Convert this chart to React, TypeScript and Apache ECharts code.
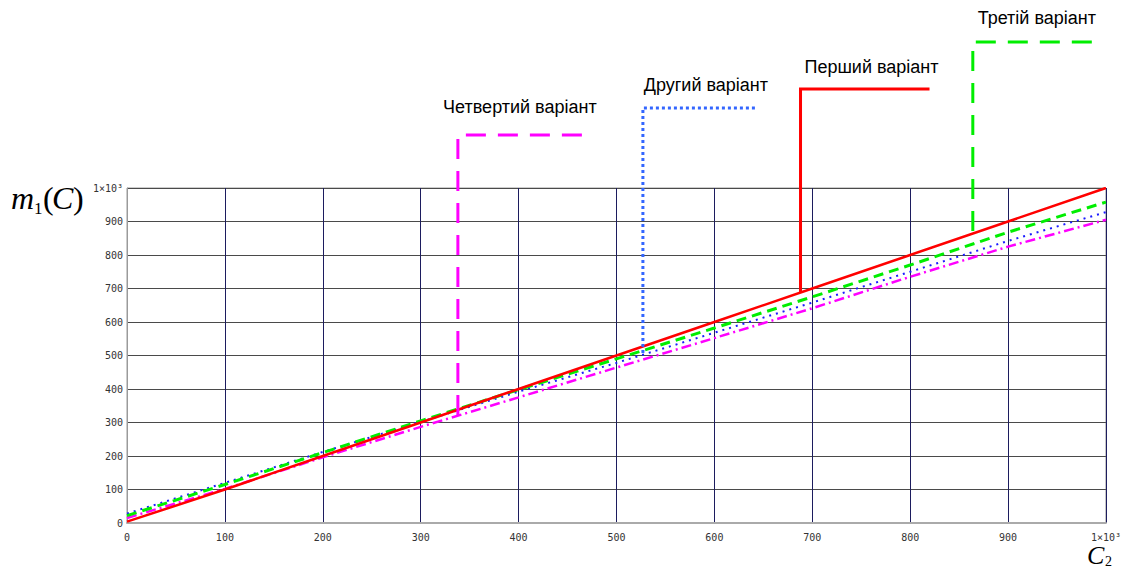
import React, { useEffect, useRef } from "react";
import * as echarts from "echarts";

// ---- data ----
const xValues = [0, 100, 200, 300, 400, 500, 600, 700, 800, 900, 1000];
const variant1 = [4, 100, 200, 300, 400, 500, 600, 700, 800, 900, 1000]; // Перший (red, solid)
const variant2 = [28, 120, 212, 302, 392, 478, 568, 658, 750, 842, 928]; // Другий (blue, dotted)
const variant3 = [22, 115, 210, 305, 398, 490, 582, 675, 770, 868, 958]; // Третій (green, dashed)
const variant4 = [15, 102, 196, 287, 375, 464, 552, 641, 735, 825, 905]; // Четвертий (magenta, dash-dot)
const seriesNames = ["Перший варіант", "Другий варіант", "Третій варіант", "Четвертий варіант"];
const calloutAnchorX = [688, 527, 864, 338]; // C2 value where each callout touches its curve
const axisMin = 0;
const axisMax = 1000;
const axisStep = 100;

const colors = ["#ff0000", "#3366ff", "#00ee00", "#ff00ff"];

function interp(xs: number[], ys: number[], x: number) {
  for (let i = 0; i < xs.length - 1; i++) {
    if (x >= xs[i] && x <= xs[i + 1]) {
      const t = (x - xs[i]) / (xs[i + 1] - xs[i]);
      return ys[i] + t * (ys[i + 1] - ys[i]);
    }
  }
  return ys[ys.length - 1];
}

export default function App() {
  const ref = useRef<HTMLDivElement>(null);
  useEffect(() => {
    if (!ref.current) return;
    const chart = echarts.init(ref.current, null, { renderer: "svg" });
    const all = [variant1, variant2, variant3, variant4];
    const pairs = all.map((s) => xValues.map((x, i) => [x, s[i]]));
    const tickFmt = (v: number) => (v === 1000 ? "1×10³" : String(v));
    const labelFont = { fontFamily: "DejaVu Sans Mono", fontSize: 10, color: "#333" };

    chart.setOption({
      animation: false,
      backgroundColor: "#fff",
      grid: {
        left: 127,
        right: 18,
        top: 188,
        bottom: 48,
        show: true,
        borderColor: "#9a9a9a",
        borderWidth: 1,
        backgroundColor: "#fff",
      },
      xAxis: {
        type: "value",
        min: axisMin,
        max: axisMax,
        interval: axisStep,
        axisLine: { show: true, lineStyle: { color: "#aaaaaa", width: 2 } },
        axisTick: { show: false },
        axisLabel: { ...labelFont, margin: 9, formatter: tickFmt, showMaxLabel: true },
        splitLine: { show: true, lineStyle: { color: "#1c1c5e", width: 1 } },
      },
      yAxis: {
        type: "value",
        min: axisMin,
        max: axisMax,
        interval: axisStep,
        axisLine: { show: true, lineStyle: { color: "#9a9a9a", width: 1 } },
        axisTick: { show: false },
        axisLabel: { ...labelFont, margin: 4, formatter: tickFmt, showMaxLabel: true },
        splitLine: { show: true, lineStyle: { color: "#4a4a4a", width: 1 } },
      },
      series: [
        {
          name: seriesNames[3],
          type: "line",
          data: pairs[3],
          showSymbol: false,
          lineStyle: { color: colors[3], width: 2.5, type: [10, 4, 2, 4] },
          z: 2,
        },
        {
          name: seriesNames[1],
          type: "line",
          data: pairs[1],
          showSymbol: false,
          lineStyle: { color: "#1a1aff", width: 2, type: [2, 5] },
          z: 3,
        },
        {
          name: seriesNames[2],
          type: "line",
          data: pairs[2],
          showSymbol: false,
          lineStyle: { color: colors[2], width: 3, type: [10, 6] },
          z: 4,
        },
        {
          name: seriesNames[0],
          type: "line",
          data: pairs[0],
          showSymbol: false,
          lineStyle: { color: colors[0], width: 2.5 },
          z: 5,
        },
      ],
    });

    // callout layout: horizontal y, horizontal length, label y, label center offset
    const calloutLayout = [
      { hy: 89, len: 129, ly: 67, lcx: 71, dash: null as number[] | null, w: 3 },
      { hy: 108, len: 112, ly: 85, lcx: 63, dash: [3, 3], w: 3 },
      { hy: 42, len: 119, ly: 18, lcx: 64, dash: [20, 12], w: 3 },
      { hy: 135, len: 124, ly: 107, lcx: 62, dash: [20, 12], w: 3 },
    ];
    const graphics: any[] = [];
    calloutAnchorX.forEach((ax, i) => {
      const ay = interp(xValues, all[i], ax);
      const p = chart.convertToPixel({ gridIndex: 0 }, [ax, ay]) as number[];
      const L = calloutLayout[i];
      graphics.push({
        type: "polyline",
        z: 100,
        shape: { points: [[p[0] + L.len, L.hy], [p[0], L.hy], [p[0], p[1]]] },
        style: {
          stroke: colors[i],
          lineWidth: L.w,
          fill: null,
          lineDash: L.dash || undefined,
        },
      });
      graphics.push({
        type: "text",
        z: 100,
        x: p[0] + L.lcx,
        y: L.ly,
        style: {
          text: seriesNames[i],
          fill: "#000",
          fontFamily: "Liberation Sans",
          fontSize: 18,
          align: "center",
          verticalAlign: "middle",
        },
      });
    });
    const serif = "Liberation Serif";
    graphics.push(
      { type: "text", x: 11, y: 198, style: { text: "m", fontFamily: serif, fontStyle: "italic", fontSize: 32, fill: "#000", verticalAlign: "middle" } },
      { type: "text", x: 34, y: 208, style: { text: "1", fontFamily: serif, fontSize: 17, fill: "#000", verticalAlign: "middle" } },
      { type: "text", x: 43, y: 198, style: { text: "(", fontFamily: serif, fontSize: 32, fill: "#000", verticalAlign: "middle" } },
      { type: "text", x: 52, y: 198, style: { text: "C", fontFamily: serif, fontStyle: "italic", fontSize: 32, fill: "#000", verticalAlign: "middle" } },
      { type: "text", x: 73, y: 198, style: { text: ")", fontFamily: serif, fontSize: 32, fill: "#000", verticalAlign: "middle" } },
      { type: "text", x: 1087, y: 555, style: { text: "C", fontFamily: serif, fontStyle: "italic", fontSize: 26, fill: "#000", verticalAlign: "middle" } },
      { type: "text", x: 1105, y: 561, style: { text: "2", fontFamily: serif, fontSize: 14, fill: "#000", verticalAlign: "middle" } }
    );
    chart.setOption({ graphic: graphics });

    return () => chart.dispose();
  }, []);
  return (
    <div
      ref={ref}
      style={{ position: "absolute", left: 0, top: 0, width: 1124, height: 571 }}
    />
  );
}
